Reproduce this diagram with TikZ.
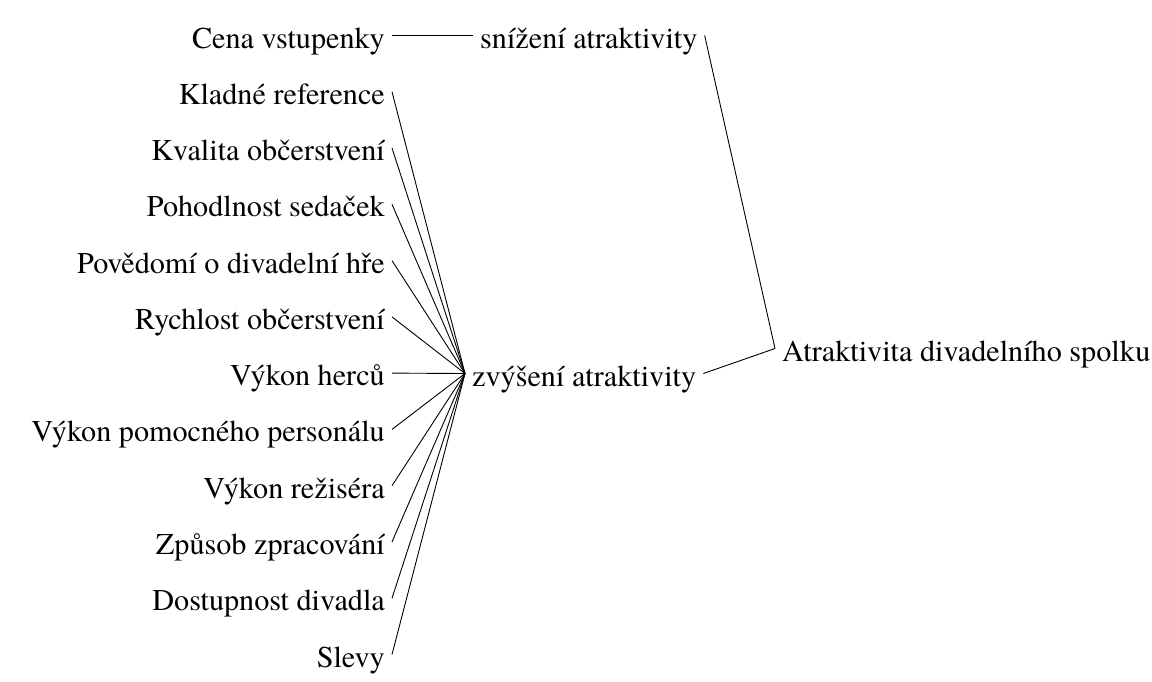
\documentclass[tikz,border=0pt]{standalone}
\usepackage{fontspec}
\setmainfont{texgyretermes}[Extension=.otf, UprightFont=*-regular]

\tikzset{
    factor/.style={inner xsep=7pt, inner ysep=0pt, text height=25pt, text depth=0pt,
        font=\fontsize{30.2pt}{34pt}\selectfont},
    link/.style={line width=0.9pt, black}
}

\begin{document}
\begin{tikzpicture}[x=1pt, y=-1pt]
        \useasboundingbox (0,0) rectangle (1152,681);

        % faktory vlevo
        \node[factor, anchor=base east] (cena) at (392, 48) {Cena vstupenky};
        \node[factor, anchor=base east] (kladne) at (392, 104.3) {Kladné reference};
        \node[factor, anchor=base east] (kvalita) at (392, 160.5) {Kvalita občerstvení};
        \node[factor, anchor=base east] (pohodlnost) at (392, 216.8) {Pohodlnost sedaček};
        \node[factor, anchor=base east] (povedomi) at (392, 273.1) {Povědomí o divadelní hře};
        \node[factor, anchor=base east] (rychlost) at (392, 329.4) {Rychlost občerstvení};
        \node[factor, anchor=base east] (herci) at (392, 385.6) {Výkon herců};
        \node[factor, anchor=base east] (personal) at (392, 441.9) {Výkon pomocného personálu};
        \node[factor, anchor=base east] (reziser) at (392, 498.2) {Výkon režiséra};
        \node[factor, anchor=base east] (zpracovani) at (392, 554.4) {Způsob zpracování};
        \node[factor, anchor=base east] (dostupnost) at (392, 610.7) {Dostupnost divadla};
        \node[factor, anchor=base east] (slevy) at (392, 667) {Slevy};

        % prostredni uroven
        \node[factor, anchor=base west] (snizeni) at (473, 48) {snížení atraktivity};
        \node[factor, anchor=base west] (zvyseni) at (465, 386) {zvýšení atraktivity};

        % cil
        \node[factor, anchor=base west] (atraktivita) at (775, 361) {Atraktivita divadelního spolku};

        \draw[link] (cena.east) -- (snizeni.west);

        \draw[link] (kladne.east) -- (zvyseni.west);
        \draw[link] (kvalita.east) -- (zvyseni.west);
        \draw[link] (pohodlnost.east) -- (zvyseni.west);
        \draw[link] (povedomi.east) -- (zvyseni.west);
        \draw[link] (rychlost.east) -- (zvyseni.west);
        \draw[link] (herci.east) -- (zvyseni.west);
        \draw[link] (personal.east) -- (zvyseni.west);
        \draw[link] (reziser.east) -- (zvyseni.west);
        \draw[link] (zpracovani.east) -- (zvyseni.west);
        \draw[link] (dostupnost.east) -- (zvyseni.west);
        \draw[link] (slevy.east) -- (zvyseni.west);

        \draw[link] (snizeni.east) -- (atraktivita.west);
        \draw[link] (zvyseni.east) -- (atraktivita.west);

    \end{tikzpicture}
\end{document}
